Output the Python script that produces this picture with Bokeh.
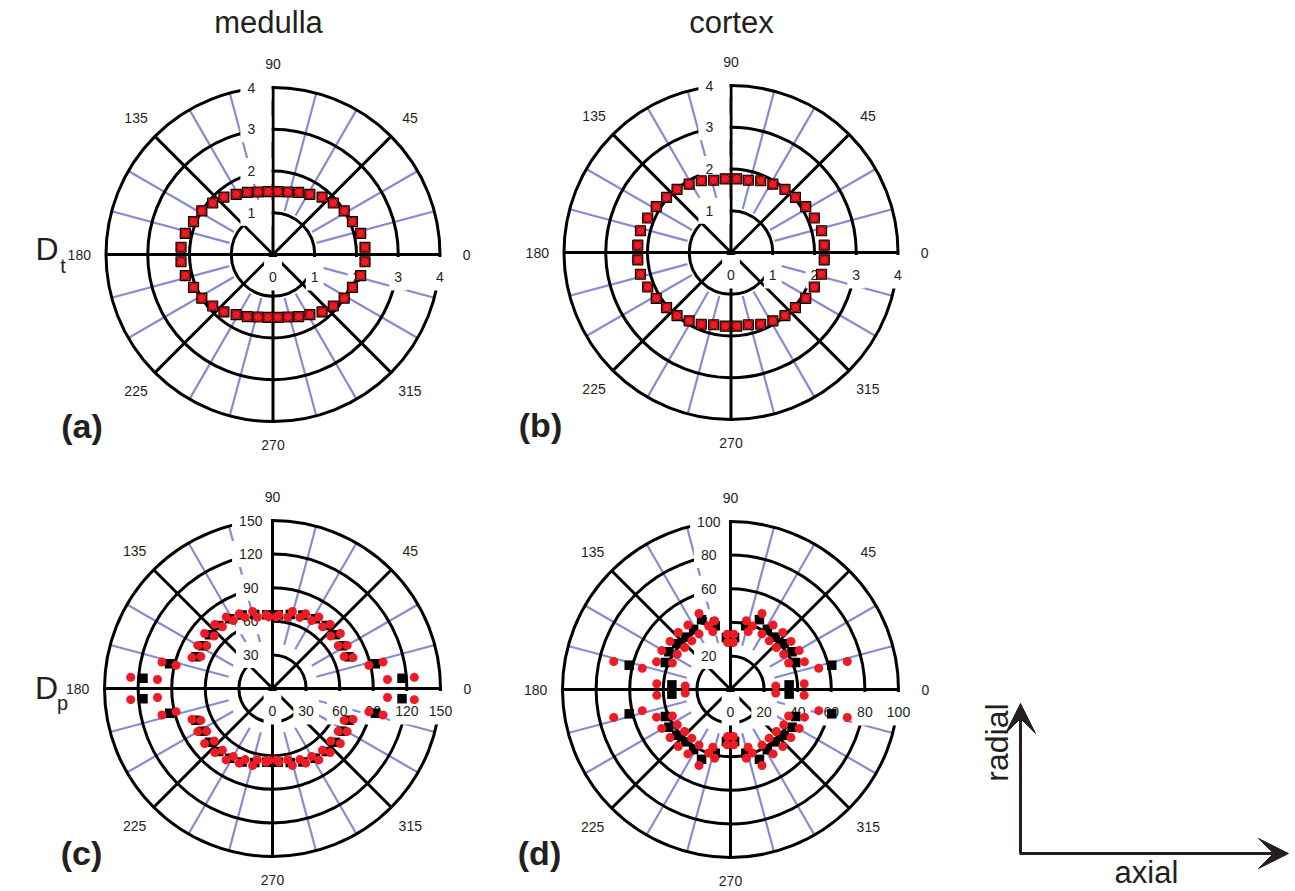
import math
from bokeh.plotting import figure
from bokeh.layouts import row, column
from bokeh.models import Range1d, Arrow, VeeHead
from bokeh.core.properties import value
from bokeh.embed import file_html
from bokeh.resources import INLINE

# ---------------- data (first quadrant; the plots are mirror-symmetric) ----------------
QUAD_ANGLES = [4.5, 13.5, 22.5, 31.5, 40.5, 49.5, 58.5, 67.5, 76.5, 85.5]

# (a) medulla, D_t
A_SQUARE = [2.21, 2.16, 2.06, 2.00, 1.90, 1.81, 1.69, 1.61, 1.54, 1.51]
A_CIRCLE = [2.21, 2.16, 2.06, 2.00, 1.90, 1.81, 1.69, 1.61, 1.54, 1.51]
# (b) cortex, D_t
B_SQUARE = [2.24, 2.23, 2.16, 2.10, 2.03, 1.99, 1.92, 1.86, 1.78, 1.77]
B_CIRCLE = [2.24, 2.23, 2.16, 2.10, 2.03, 1.99, 1.92, 1.86, 1.78, 1.77]
# (c) medulla, D_p
C_SQUARE = [116, 94.5, 74, 73, 74, 74, 73, 71, 68, 66]
C_RED_OUT = [127, 101.5, 77, 77, 78, 77, 76, 73, 71, 66]
C_RED_OUT_ANG = [4.5, 13.5, 21.0, 30.0, 39.0, 48.0, 57.0, 66.0, 75.5, 85.0]
C_RED_IN = [103, 88.5, 70, 70, 70, 71, 70, 68, 65, 64]
C_RED_IN_ANG = [4.5, 13.5, 24.0, 33.0, 42.0, 51.0, 60.0, 69.0, 78.0, 87.0]
# (d) cortex, D_p
D_SQUARE = [35, 62, 42, 43, 42, 41, 42, 45, 39, 31]
D_RED_OUT = [44, 71.5, 47, 47, 46, 46, 46, 49, 42, 33]
D_RED_OUT_ANG = [4.5, 13.5, 20.5, 29.5, 38.5, 47.5, 56.5, 67.5, 77.0, 86.5]
D_RED_IN = [27, 54, 38, 38, 37, 37, 38, 40, 36, 28]
D_RED_IN_ANG = [4.5, 13.5, 24.5, 33.5, 42.5, 51.5, 60.5, 71.0, 73.0, 86.5]

ANGLE_TICKS = [0, 45, 90, 135, 180, 225, 270, 315]
ANGLE_LABELS = ["0", "45", "90", "135", "180", "225", "270", "315"]
DT_TICKS = [1, 2, 3, 4]
DP_MED_TICKS = [30, 60, 90, 120, 150]
DP_COR_TICKS = [20, 40, 60, 80, 100]

INK = "#231f20"
RED = "#ed1c24"
BLUE = "#878bcf"
FONT = value("Liberation Sans")


def mirror(angles, radii):
    th, rr = [], []
    for a, r in zip(angles, radii):
        for t in (a, 180 - a, 180 + a, 360 - a):
            th.append(t)
            rr.append(r)
    return th, rr


def to_xy(th, rr):
    xs = [r * math.cos(math.radians(t)) for t, r in zip(th, rr)]
    ys = [r * math.sin(math.radians(t)) for t, r in zip(th, rr)]
    return xs, ys


def txt(p, xs, ys, texts, size, align="center", baseline="middle", bold=False, angle=0.0):
    p.text(x=xs, y=ys, text=texts, text_font=FONT, text_font_size=f"{size}px",
           text_align=align, text_baseline=baseline, text_color=INK,
           text_font_style="bold" if bold else "normal", angle=angle)


def polar_panel(W, H, cx, cy, R_px, ticks):
    rmax = ticks[-1]
    s = R_px / rmax
    p = figure(width=W, height=H, x_range=Range1d(-cx / s, (W - cx) / s),
               y_range=Range1d(-(H - cy) / s, cy / s), output_backend="svg",
               toolbar_location=None, min_border=0, x_axis_location=None,
               y_axis_location=None, outline_line_color=None,
               background_fill_color="white", border_fill_color="white")
    p.xgrid.visible = False
    p.ygrid.visible = False

    # light blue spokes every 15 degrees
    blue = [a for a in range(0, 360, 15) if a % 45]
    r0 = 0.27 * rmax
    p.segment(x0=[r0 * math.cos(math.radians(a)) for a in blue],
              y0=[r0 * math.sin(math.radians(a)) for a in blue],
              x1=[rmax * math.cos(math.radians(a)) for a in blue],
              y1=[rmax * math.sin(math.radians(a)) for a in blue],
              line_color=BLUE, line_width=2.2)
    # black rings and spokes
    p.circle(x=[0] * len(ticks), y=[0] * len(ticks), radius=ticks,
             fill_color=None, line_color="black", line_width=3)
    p.segment(x0=[0] * 8, y0=[0] * 8,
              x1=[rmax * math.cos(math.radians(a)) for a in ANGLE_TICKS],
              y1=[rmax * math.sin(math.radians(a)) for a in ANGLE_TICKS],
              line_color="black", line_width=3)

    # white label boxes (masks) for radial tick labels
    top_labels = [str(t) for t in ticks]
    bot_vals = [0] + list(ticks)
    bot_labels = [str(t) for t in bot_vals]
    L, R, B, T = [], [], [], []
    for t, lab in zip(ticks, top_labels):
        tw = 7.8 * len(lab)
        L.append((-21.7 - tw / 2 - 7) / s)
        R.append(-1.5 / s)
        B.append(t - 13 / s)
        T.append(t + 13 / s)
    for t, lab in zip(bot_vals, bot_labels):
        tw = 7.8 * len(lab)
        L.append(t - (tw / 2 + 5) / s)
        R.append(t + (tw / 2 + 5) / s)
        B.append(-36 / s)
        T.append(-2.5 / s)
    p.quad(left=L, right=R, bottom=B, top=T, fill_color="white", line_color=None)

    txt(p, [-21.7 / s] * len(ticks), list(ticks), top_labels, 14)
    txt(p, bot_vals, [-22 / s] * len(bot_vals), bot_labels, 14)

    # angle labels
    ax, ay = [], []
    for a in ANGLE_TICKS:
        f = 1.14 if a in (90, 270) else 1.16
        ax.append(f * rmax * math.cos(math.radians(a)))
        ay.append(f * rmax * math.sin(math.radians(a)))
    txt(p, ax, ay, ANGLE_LABELS, 14)
    return p, s


# ---------------- panel (a) ----------------
pa, sa = polar_panel(501, 471, 272.5, 254, 167, DT_TICKS)
x, y = to_xy(*mirror(QUAD_ANGLES, A_SQUARE))
pa.scatter(x, y, marker="square", size=10, fill_color=RED, line_color="black", line_width=1.2)
x, y = to_xy(*mirror(QUAD_ANGLES, A_CIRCLE))
pa.scatter(x, y, marker="circle", size=8.5, fill_color=RED, line_color="#5a0000", line_width=0.8)
txt(pa, [-4.5 / sa], [232 / sa], ["medulla"], 31)
txt(pa, [-191 / sa], [-171 / sa], ["(a)"], 34, bold=True)
txt(pa, [-226 / sa], [6 / sa], ["D"], 32)
txt(pa, [-210 / sa], [-11 / sa], ["t"], 20)

# ---------------- panel (b) ----------------
pb, sb = polar_panel(462, 471, 229.5, 252, 167, DT_TICKS)
x, y = to_xy(*mirror(QUAD_ANGLES, B_SQUARE))
pb.scatter(x, y, marker="square", size=10, fill_color=RED, line_color="black", line_width=1.2)
x, y = to_xy(*mirror(QUAD_ANGLES, B_CIRCLE))
pb.scatter(x, y, marker="circle", size=8.5, fill_color=RED, line_color="#5a0000", line_width=0.8)
txt(pb, [0.5 / sb], [230 / sb], ["cortex"], 31)
txt(pb, [-190.5 / sb], [-172.5 / sb], ["(b)"], 34, bold=True)

# ---------------- panel (c) ----------------
pc, sc = polar_panel(501, 418, 272, 217, 168, DP_MED_TICKS)
x, y = to_xy(*mirror(QUAD_ANGLES, C_SQUARE))
pc.scatter(x, y, marker="square", size=9.5, fill_color="black", line_color=None)
x, y = to_xy(*mirror(C_RED_OUT_ANG, C_RED_OUT))
pc.scatter(x, y, marker="circle", size=9, fill_color=RED, line_color=None)
x, y = to_xy(*mirror(C_RED_IN_ANG, C_RED_IN))
pc.scatter(x, y, marker="circle", size=9, fill_color=RED, line_color=None)
txt(pc, [-191 / sc], [-164 / sc], ["(c)"], 34, bold=True)
txt(pc, [-226 / sc], [1 / sc], ["D"], 32)
txt(pc, [-210 / sc], [-14 / sc], ["p"], 20)

# ---------------- panel (d) ----------------
pd, sd = polar_panel(462, 418, 229, 218, 168, DP_COR_TICKS)
x, y = to_xy(*mirror(QUAD_ANGLES, D_SQUARE))
pd.scatter(x, y, marker="square", size=9.5, fill_color="black", line_color=None)
x, y = to_xy(*mirror(D_RED_OUT_ANG, D_RED_OUT))
pd.scatter(x, y, marker="circle", size=9, fill_color=RED, line_color=None)
x, y = to_xy(*mirror(D_RED_IN_ANG, D_RED_IN))
pd.scatter(x, y, marker="circle", size=9, fill_color=RED, line_color=None)
txt(pd, [-191 / sd], [-163 / sd], ["(d)"], 34, bold=True)

# ---------------- direction key ----------------
KW, KH = 330, 418
pk = figure(width=KW, height=KH, x_range=Range1d(0, KW), y_range=Range1d(0, KH),
            output_backend="svg", toolbar_location=None, min_border=0,
            x_axis_location=None, y_axis_location=None, outline_line_color=None,
            background_fill_color="white", border_fill_color="white")
pk.xgrid.visible = False
pk.ygrid.visible = False
pk.add_layout(Arrow(x_start=57, y_start=36, x_end=57, y_end=186, line_width=3, line_color=INK,
                    end=VeeHead(size=30, fill_color=INK, line_color=INK, line_width=1)))
pk.add_layout(Arrow(x_start=56, y_start=36, x_end=325, y_end=36, line_width=3, line_color=INK,
                    end=VeeHead(size=30, fill_color=INK, line_color=INK, line_width=1)))
txt(pk, [33], [147], ["radial"], 32, angle=math.pi / 2)
txt(pk, [183], [17], ["axial"], 31, baseline="middle")

layout = column(row(pa, pb), row(pc, pd, pk))
open("out.html", "w").write(file_html(layout, INLINE))
